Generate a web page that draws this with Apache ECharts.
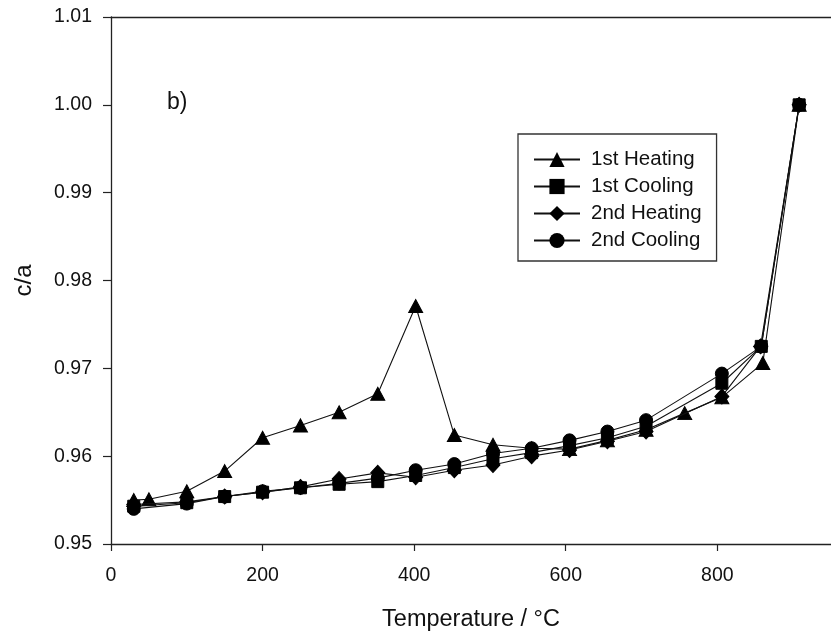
<!DOCTYPE html>
<html>
<head>
<meta charset="utf-8">
<script src="https://cdn.jsdelivr.net/npm/echarts@6/dist/echarts.min.js"></script>
<style>
  html, body { margin: 0; padding: 0; background: #fff; }
  #chart { width: 831px; height: 637px; }
</style>
</head>
<body>
<div id="chart"></div>
<script>
// c/a vs temperature
var seriesNames = ['1st Heating', '1st Cooling', '2nd Heating', '2nd Cooling'];

var heat1Temp = [30, 50, 100, 150, 200, 250, 301, 352, 402, 453, 504, 555, 605, 655, 706, 757, 806, 860, 908];
var heat1Val = [0.9550, 0.9551, 0.9560, 0.9583, 0.9621, 0.9635, 0.9650, 0.9671, 0.9771, 0.9624, 0.9613, 0.9609, 0.9608, 0.9618, 0.9630, 0.9649, 0.9667, 0.9706, 1.0000];

var cool1Temp = [30, 100, 150, 200, 250, 301, 352, 402, 453, 504, 555, 605, 655, 706, 806, 858, 908];
var cool1Val = [0.9543, 0.9547, 0.9554, 0.9559, 0.9564, 0.9568, 0.9571, 0.9578, 0.9587, 0.9597, 0.9604, 0.9612, 0.9621, 0.9634, 0.9683, 0.9725, 1.0000];

var heat2Temp = [30, 100, 150, 200, 250, 301, 352, 402, 453, 504, 555, 605, 655, 706, 806, 857, 908];
var heat2Val = [0.9545, 0.9548, 0.9554, 0.9559, 0.9565, 0.9574, 0.9581, 0.9576, 0.9584, 0.9590, 0.9600, 0.9607, 0.9617, 0.9628, 0.9668, 0.9725, 1.0000];

var cool2Temp = [30, 100, 150, 200, 250, 301, 352, 402, 453, 504, 555, 605, 655, 706, 806, 858, 908];
var cool2Val = [0.9540, 0.9546, 0.9554, 0.9560, 0.9564, 0.9569, 0.9575, 0.9584, 0.9591, 0.9603, 0.9609, 0.9618, 0.9628, 0.9641, 0.9694, 0.9725, 1.0000];

var symbols = ['triangle', 'rect', 'diamond', 'circle'];
var symbolSizes = [[14, 13], [12, 12], [14, 15], [13, 13]];

function pairs(xs, ys) {
  return xs.map(function (x, i) { return [x, ys[i]]; });
}

var allData = [
  pairs(heat1Temp, heat1Val),
  pairs(cool1Temp, cool1Val),
  pairs(heat2Temp, heat2Val),
  pairs(cool2Temp, cool2Val)
];

var FONT = '"Liberation Sans", Arial, sans-serif';
var chart = echarts.init(document.getElementById('chart'));

chart.setOption({
  backgroundColor: '#fff',
  animation: false,
  textStyle: { fontFamily: FONT, color: '#111' },
  grid: { left: 111, top: 17, width: 722, height: 527 },
  xAxis: [{
    type: 'value',
    min: 0, max: 950, interval: 200,
    name: 'Temperature / °C',
    nameLocation: 'middle',
    nameGap: 64,
    nameTextStyle: { fontSize: 23.5, color: '#111', fontFamily: FONT },
    axisLine: { show: true, lineStyle: { color: '#222', width: 1.3 } },
    axisTick: { show: true, inside: false, length: 7, lineStyle: { color: '#222', width: 1.2 } },
    axisLabel: { fontSize: 19.5, color: '#111', margin: 22, fontFamily: FONT, showMaxLabel: false },
    splitLine: { show: false }
  }, {
    // top frame line only
    type: 'value',
    position: 'top',
    min: 0, max: 950,
    axisLine: { show: true, lineStyle: { color: '#222', width: 1.3 } },
    axisTick: { show: false },
    axisLabel: { show: false },
    splitLine: { show: false }
  }],
  yAxis: {
    type: 'value',
    min: 0.95, max: 1.01, interval: 0.01,
    name: 'c/a',
    nameLocation: 'middle',
    nameGap: 75,
    nameRotate: 90,
    nameTextStyle: { fontSize: 24, color: '#111', fontFamily: FONT },
    axisLine: { show: true, lineStyle: { color: '#222', width: 1.3 } },
    axisTick: { show: true, inside: false, length: 8, lineStyle: { color: '#222', width: 1.2 } },
    axisLabel: {
      fontSize: 19.5, color: '#111', margin: 19, fontFamily: FONT,
      formatter: function (v) { return v.toFixed(2); }
    },
    splitLine: { show: false }
  },
  legend: {
    orient: 'vertical',
    left: 518, top: 134,
    padding: [15, 15, 10, 15],
    borderColor: '#333', borderWidth: 1.3,
    itemWidth: 46, itemHeight: 19, itemGap: 6,
    textStyle: { fontSize: 20.5, color: '#111', fontFamily: FONT, lineHeight: 20, padding: [0, 0, 0, 6] },
    data: seriesNames
  },
  graphic: [{
    type: 'text',
    left: 167, top: 91,
    style: { text: 'b)', font: '23px "Liberation Sans", Arial, sans-serif', fill: '#111' }
  }],
  series: seriesNames.map(function (name, i) {
    return {
      name: name,
      type: 'line',
      data: allData[i],
      symbol: symbols[i],
      symbolSize: symbolSizes[i],
      showAllSymbol: true,
      lineStyle: { color: '#111', width: 1.1 },
      itemStyle: { color: '#000', borderColor: '#000' },
      emphasis: { disabled: true },
      z: 2 + i
    };
  })
});
</script>
</body>
</html>
